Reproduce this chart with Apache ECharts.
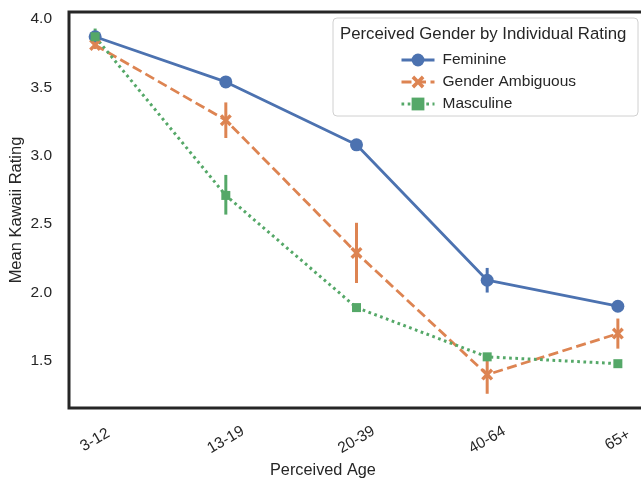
<!DOCTYPE html>
<html>
<head>
<meta charset="utf-8">
<script src="https://cdn.jsdelivr.net/npm/echarts@6/dist/echarts.min.js"></script>
<style>
  html, body { margin: 0; padding: 0; background: #fff; }
  #chart { width: 641px; height: 483px; }
</style>
</head>
<body>
<div id="chart"></div>
<script>
var categories = ["3-12", "13-19", "20-39", "40-64", "65+"];
var yTicks = [1.5, 2.0, 2.5, 3.0, 3.5, 4.0];

var feminine = [3.87, 3.54, 3.08, 2.09, 1.9];
var feminineLow = [3.85, 3.5, 3.06, 2.0, 1.88];
var feminineHigh = [3.89, 3.58, 3.1, 2.18, 1.92];

var ambiguous = [3.81, 3.26, 2.29, 1.4, 1.7];
var ambiguousLow = [3.78, 3.13, 2.07, 1.26, 1.59];
var ambiguousHigh = [3.84, 3.39, 2.51, 1.5, 1.81];

var masculine = [3.87, 2.71, 1.89, 1.53, 1.48];
var masculineLow = [3.82, 2.57, 1.87, 1.51, 1.46];
var masculineHigh = [3.93, 2.86, 1.91, 1.55, 1.5];

var colors = ["#4c72b0", "#dd8452", "#55a868"];
var textColor = "#262626";
var font = "Liberation Sans, Arial, sans-serif";

// filled X marker like seaborn's "X"
var xMarker = "path://M-1,-0.6 L-0.6,-1 L0,-0.4 L0.6,-1 L1,-0.6 L0.4,0 L1,0.6 L0.6,1 L0,0.4 L-0.6,1 L-1,0.6 L-0.4,0 Z";

function pairs(vals) {
  return vals.map(function (v, i) { return [i, v]; });
}

function errorSeries(name, low, high, color) {
  return {
    name: name,
    type: "custom",
    z: 3,
    data: low.map(function (l, i) { return [i, l, high[i]]; }),
    renderItem: function (params, api) {
      var p1 = api.coord([api.value(0), api.value(1)]);
      var p2 = api.coord([api.value(0), api.value(2)]);
      return {
        type: "line",
        shape: { x1: p1[0], y1: p1[1], x2: p2[0], y2: p2[1] },
        style: { stroke: color, lineWidth: 3 },
      };
    },
  };
}

var mychart = echarts.init(document.getElementById("chart"));
var option = {
  animation: false,
  textStyle: { fontFamily: font },
  grid: {
    left: 69,
    top: 12,
    bottom: 75,
    right: -3,
    outerBoundsMode: "none",
    containLabel: false,
    show: true,
    borderColor: textColor,
    borderWidth: 3,
  },
  xAxis: {
    type: "value",
    min: -0.2,
    max: 4.2,
    axisLine: { show: false },
    axisTick: { show: false },
    splitLine: { show: false },
    axisLabel: {
      customValues: [0, 1, 2, 3, 4],
      formatter: function (v) { return categories[v]; },
      rotate: 30,
      align: "center",
      verticalAlign: "middle",
      margin: 32,
      fontSize: 15.5,
      color: textColor,
    },
  },
  yAxis: {
    type: "value",
    min: 1.156,
    max: 4.051,
    axisLine: { show: false },
    axisTick: { show: false },
    splitLine: { show: false },
    axisLabel: {
      customValues: yTicks,
      formatter: function (v) { return v.toFixed(1); },
      margin: 17,
      fontSize: 15.5,
      color: textColor,
    },
    name: "Mean Kawaii Rating",
    nameLocation: "middle",
    nameGap: 44,
    nameMoveOverlap: false,
    nameTextStyle: { fontSize: 16.5, color: textColor },
  },
  legend: {
    orient: "vertical",
    left: 395,
    top: 47,
    itemWidth: 33,
    itemHeight: 16,
    itemGap: 6,
    data: ["Feminine", "Gender Ambiguous", "Masculine"],
    lineStyle: { width: 3 },
    textStyle: { fontSize: 15.5, color: textColor, padding: [0, 0, 0, 3] },
  },
  graphic: [
    {
      type: "rect",
      shape: { x: 333, y: 18, width: 305, height: 98, r: 4 },
      style: { fill: "rgba(255,255,255,0.8)", stroke: "#d0d0d0", lineWidth: 1 },
      z: 0,
    },
    {
      type: "text",
      left: 340,
      top: 26,
      style: {
        text: "Perceived Gender by Individual Rating",
        font: "16.8px " + font,
        fill: textColor,
      },
    },
    {
      type: "text",
      left: 270,
      top: 463,
      style: { text: "Perceived Age", font: "16.3px " + font, fill: textColor },
    },
  ],
  series: [
    errorSeries("err-f", feminineLow, feminineHigh, colors[0]),
    errorSeries("err-a", ambiguousLow, ambiguousHigh, colors[1]),
    errorSeries("err-m", masculineLow, masculineHigh, colors[2]),
    {
      name: "Feminine",
      type: "line",
      data: pairs(feminine),
      symbol: "circle",
      symbolSize: 13,
      itemStyle: { color: colors[0] },
      lineStyle: { color: colors[0], width: 2.8 },
      z: 4,
    },
    {
      name: "Gender Ambiguous",
      type: "line",
      data: pairs(ambiguous),
      symbol: xMarker,
      symbolSize: 12,
      itemStyle: { color: colors[1] },
      lineStyle: { color: colors[1], width: 2.8, type: [10, 4.5] },
      z: 4,
    },
    {
      name: "Masculine",
      type: "line",
      data: pairs(masculine),
      symbol: "rect",
      symbolSize: 9,
      itemStyle: { color: colors[2] },
      lineStyle: { color: colors[2], width: 3, type: [2.7, 3.5] },
      z: 4,
    },
  ],
};
mychart.setOption(option, true);
</script>
</body>
</html>
